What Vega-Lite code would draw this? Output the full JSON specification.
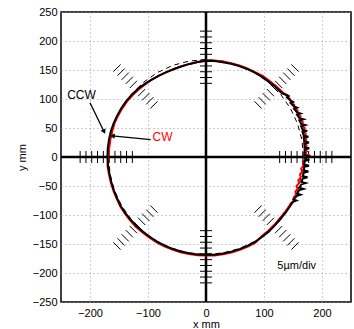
{
"$schema":"https://vega.github.io/schema/vega-lite/v6.json",
"width":290,"height":290,
"autosize":{"type":"none"},
"padding":{"left":61,"top":12,"right":3,"bottom":27},
"background":"white",
"config":{
 "font":"Liberation Sans",
 "view":{"stroke":"black","strokeWidth":1.5},
 "axis":{"domain":false,"ticks":false,"grid":true,"gridColor":"#9a9a9a","gridDash":[1,3],"gridWidth":1,"labelFont":"Liberation Sans","labelFontSize":11,"labelColor":"black","labelFlush":false,"labelOverlap":false,"titleFont":"Liberation Sans","titleFontSize":11,"titleFontWeight":"normal","titleColor":"black"}
},
"datasets":{
 "hatch":[
  {"x":-217,"y":0,"g":"h"},{"x":-207,"y":0,"g":"h"},{"x":-197,"y":0,"g":"h"},{"x":-187,"y":0,"g":"h"},{"x":-177,"y":0,"g":"h"},{"x":-167,"y":0,"g":"h"},{"x":-157,"y":0,"g":"h"},{"x":-147,"y":0,"g":"h"},{"x":-137,"y":0,"g":"h"},{"x":-127,"y":0,"g":"h"},
  {"x":217,"y":0,"g":"h"},{"x":207,"y":0,"g":"h"},{"x":197,"y":0,"g":"h"},{"x":187,"y":0,"g":"h"},{"x":177,"y":0,"g":"h"},{"x":167,"y":0,"g":"h"},{"x":157,"y":0,"g":"h"},{"x":147,"y":0,"g":"h"},{"x":137,"y":0,"g":"h"},{"x":127,"y":0,"g":"h"},
  {"x":0,"y":-217,"g":"v"},{"x":0,"y":-207,"g":"v"},{"x":0,"y":-197,"g":"v"},{"x":0,"y":-187,"g":"v"},{"x":0,"y":-177,"g":"v"},{"x":0,"y":-167,"g":"v"},{"x":0,"y":-157,"g":"v"},{"x":0,"y":-147,"g":"v"},{"x":0,"y":-137,"g":"v"},{"x":0,"y":-127,"g":"v"},
  {"x":0,"y":217,"g":"v"},{"x":0,"y":207,"g":"v"},{"x":0,"y":197,"g":"v"},{"x":0,"y":187,"g":"v"},{"x":0,"y":177,"g":"v"},{"x":0,"y":167,"g":"v"},{"x":0,"y":157,"g":"v"},{"x":0,"y":147,"g":"v"},{"x":0,"y":137,"g":"v"},{"x":0,"y":127,"g":"v"},
  {"x":89.8,"y":89.8,"g":"d1"},{"x":96.9,"y":96.9,"g":"d1"},{"x":103.9,"y":103.9,"g":"d1"},{"x":111.0,"y":111.0,"g":"d1"},{"x":118.1,"y":118.1,"g":"d1"},{"x":125.2,"y":125.2,"g":"d1"},{"x":132.2,"y":132.2,"g":"d1"},{"x":139.3,"y":139.3,"g":"d1"},{"x":146.4,"y":146.4,"g":"d1"},{"x":153.4,"y":153.4,"g":"d1"},
  {"x":-89.8,"y":-89.8,"g":"d1"},{"x":-96.9,"y":-96.9,"g":"d1"},{"x":-103.9,"y":-103.9,"g":"d1"},{"x":-111.0,"y":-111.0,"g":"d1"},{"x":-118.1,"y":-118.1,"g":"d1"},{"x":-125.2,"y":-125.2,"g":"d1"},{"x":-132.2,"y":-132.2,"g":"d1"},{"x":-139.3,"y":-139.3,"g":"d1"},{"x":-146.4,"y":-146.4,"g":"d1"},{"x":-153.4,"y":-153.4,"g":"d1"},
  {"x":-89.8,"y":89.8,"g":"d2"},{"x":-96.9,"y":96.9,"g":"d2"},{"x":-103.9,"y":103.9,"g":"d2"},{"x":-111.0,"y":111.0,"g":"d2"},{"x":-118.1,"y":118.1,"g":"d2"},{"x":-125.2,"y":125.2,"g":"d2"},{"x":-132.2,"y":132.2,"g":"d2"},{"x":-139.3,"y":139.3,"g":"d2"},{"x":-146.4,"y":146.4,"g":"d2"},{"x":-153.4,"y":153.4,"g":"d2"},
  {"x":89.8,"y":-89.8,"g":"d2"},{"x":96.9,"y":-96.9,"g":"d2"},{"x":103.9,"y":-103.9,"g":"d2"},{"x":111.0,"y":-111.0,"g":"d2"},{"x":118.1,"y":-118.1,"g":"d2"},{"x":125.2,"y":-125.2,"g":"d2"},{"x":132.2,"y":-132.2,"g":"d2"},{"x":139.3,"y":-139.3,"g":"d2"},{"x":146.4,"y":-146.4,"g":"d2"},{"x":153.4,"y":-153.4,"g":"d2"}
 ],
 "ref":[
  {"x":168,"y":0},{"x":165.4,"y":29.2},{"x":157.9,"y":57.5},{"x":145.5,"y":84.0},{"x":128.7,"y":108.0},{"x":108.0,"y":128.7},{"x":84.0,"y":145.5},{"x":57.5,"y":157.9},{"x":29.2,"y":165.4},{"x":0,"y":168},
  {"x":-29.2,"y":165.4},{"x":-57.5,"y":157.9},{"x":-84.0,"y":145.5},{"x":-108.0,"y":128.7},{"x":-128.7,"y":108.0},{"x":-145.5,"y":84.0},{"x":-157.9,"y":57.5},{"x":-165.4,"y":29.2},{"x":-168,"y":0},
  {"x":-165.4,"y":-29.2},{"x":-157.9,"y":-57.5},{"x":-145.5,"y":-84.0},{"x":-128.7,"y":-108.0},{"x":-108.0,"y":-128.7},{"x":-84.0,"y":-145.5},{"x":-57.5,"y":-157.9},{"x":-29.2,"y":-165.4},{"x":0,"y":-168},
  {"x":29.2,"y":-165.4},{"x":57.5,"y":-157.9},{"x":84.0,"y":-145.5},{"x":108.0,"y":-128.7},{"x":128.7,"y":-108.0},{"x":145.5,"y":-84.0},{"x":157.9,"y":-57.5},{"x":165.4,"y":-29.2},{"x":168,"y":0}
 ],
 "cw":[
  {"x":144.2,"y":-83.3},{"x":146,"y":-80},{"x":151.5,"y":-75},{"x":151,"y":-70},{"x":155.5,"y":-65},{"x":154,"y":-60},{"x":158,"y":-55},{"x":156,"y":-50},{"x":160.5,"y":-45},{"x":159,"y":-40},{"x":163.5,"y":-35},{"x":162,"y":-30},{"x":166,"y":-25},{"x":164,"y":-20},{"x":168.5,"y":-15},{"x":167,"y":-10},{"x":172.5,"y":-5},{"x":170,"y":0},{"x":180,"y":2},{"x":170.5,"y":5},{"x":174,"y":10},{"x":170,"y":15},{"x":173.5,"y":20},{"x":169,"y":25},{"x":173,"y":30},{"x":168.5,"y":35},{"x":172,"y":40},{"x":167,"y":45},{"x":170,"y":50},{"x":164.5,"y":55},{"x":167,"y":60},{"x":161.5,"y":65},{"x":163,"y":70},{"x":157.5,"y":75},{"x":158,"y":80},{"x":152.5,"y":85},{"x":152,"y":90},{"x":146.5,"y":95},{"x":145,"y":100},{"x":140,"y":105},
  {"x":132.5,"y":111.2},{"x":121.6,"y":121.6},{"x":109.9,"y":131.0},{"x":97.8,"y":139.7},{"x":84.5,"y":146.4},{"x":71.2,"y":152.7},{"x":57.5,"y":157.9},{"x":43.4,"y":161.8},{"x":29.0,"y":164.5},{"x":14.6,"y":166.4},{"x":0,"y":166},
  {"x":-14.3,"y":163.9},{"x":-28.3,"y":160.5},{"x":-41.9,"y":156.5},{"x":-55.2,"y":151.8},{"x":-68.3,"y":146.4},{"x":-81.0,"y":140.3},{"x":-93.5,"y":133.5},{"x":-104.8,"y":124.9},{"x":-116.3,"y":116.3},{"x":-126.8,"y":106.4},{"x":-136.4,"y":95.5},{"x":-144.6,"y":83.5},{"x":-151.8,"y":70.8},{"x":-157.9,"y":57.5},{"x":-161.8,"y":43.4},{"x":-165.0,"y":29.1},{"x":-166.9,"y":14.6},{"x":-169,"y":0},
  {"x":-169.9,"y":-14.9},{"x":-167.4,"y":-29.5},{"x":-164.2,"y":-44.0},{"x":-159.7,"y":-58.1},{"x":-154.1,"y":-71.8},{"x":-147.7,"y":-85.3},{"x":-139.7,"y":-97.8},{"x":-130.6,"y":-109.6},{"x":-120.6,"y":-120.6},{"x":-109.3,"y":-130.2},{"x":-97.5,"y":-139.3},{"x":-85.0,"y":-147.2},{"x":-71.8,"y":-154.1},{"x":-58.1,"y":-159.7},{"x":-44.0,"y":-164.2},{"x":-29.5,"y":-167.4},{"x":-14.8,"y":-169.4},{"x":0,"y":-170},
  {"x":14.9,"y":-169.9},{"x":29.6,"y":-167.9},{"x":44.1,"y":-164.7},{"x":58.3,"y":-160.2},{"x":72.1,"y":-154.5},{"x":85.3,"y":-147.7},{"x":95.8,"y":-136.8},{"x":107.0,"y":-127.5},{"x":117.4,"y":-117.4},{"x":126.8,"y":-106.4},{"x":136.0,"y":-95.2},{"x":144.2,"y":-83.3}
 ],
 "ccw":[
  {"x":145.5,"y":-84.0},{"x":148,"y":-80},
  {"x":151,"y":-77},{"x":156,"y":-75},{"x":151,"y":-73},
  {"x":157,"y":-67},{"x":163,"y":-65},{"x":157,"y":-63},
  {"x":161,"y":-57},{"x":168,"y":-55},{"x":161,"y":-53},
  {"x":164.5,"y":-47},{"x":171.5,"y":-45},{"x":164.5,"y":-43},
  {"x":167,"y":-37},{"x":175,"y":-35},{"x":167,"y":-33},
  {"x":168.5,"y":-27},{"x":176.5,"y":-25},{"x":168.5,"y":-23},
  {"x":169.5,"y":-17},{"x":177.5,"y":-15},{"x":169.5,"y":-13},
  {"x":170,"y":-7},{"x":178,"y":-5},{"x":170,"y":-3},
  {"x":170.5,"y":-1},{"x":180,"y":1},{"x":170.5,"y":3},
  {"x":170,"y":13},{"x":178,"y":15},{"x":170,"y":17},
  {"x":169.5,"y":23},{"x":177.5,"y":25},{"x":169.5,"y":27},
  {"x":168.5,"y":33},{"x":176.5,"y":35},{"x":168.5,"y":37},
  {"x":166.5,"y":43},{"x":174.5,"y":45},{"x":166.5,"y":47},
  {"x":164,"y":53},{"x":171,"y":55},{"x":164,"y":57},
  {"x":161,"y":63},{"x":168,"y":65},{"x":161,"y":67},
  {"x":157,"y":73},{"x":163,"y":75},{"x":157,"y":77},
  {"x":152,"y":83},{"x":157,"y":85},{"x":152,"y":87},
  {"x":146,"y":93},{"x":150,"y":95},{"x":146,"y":97},
  {"x":139.5,"y":103},{"x":142.5,"y":105},{"x":139.5,"y":107},
  {"x":131.0,"y":109.9},{"x":120.2,"y":120.2},{"x":108.6,"y":129.5},{"x":96.7,"y":138.0},{"x":84.0,"y":145.5},{"x":70.8,"y":151.8},{"x":57.1,"y":156.9},{"x":43.1,"y":160.8},{"x":28.8,"y":163.5},{"x":14.5,"y":165.4},{"x":0,"y":166},
  {"x":-14.3,"y":163.9},{"x":-28.3,"y":160.5},{"x":-41.9,"y":156.5},{"x":-55.2,"y":151.8},{"x":-68.3,"y":146.4},{"x":-81.0,"y":140.3},{"x":-93.5,"y":133.5},{"x":-105.7,"y":126.0},{"x":-117.4,"y":117.4},{"x":-127.9,"y":107.3},{"x":-137.6,"y":96.4},{"x":-145.9,"y":84.3},{"x":-153.2,"y":71.4},{"x":-159.3,"y":58.0},{"x":-164.2,"y":44.0},{"x":-167.4,"y":29.5},{"x":-169.4,"y":14.8},{"x":-170,"y":0},
  {"x":-168.9,"y":-14.8},{"x":-166.4,"y":-29.3},{"x":-163.2,"y":-43.7},{"x":-158.8,"y":-57.8},{"x":-153.2,"y":-71.4},{"x":-146.8,"y":-84.8},{"x":-138.8,"y":-97.2},{"x":-129.5,"y":-108.6},{"x":-119.5,"y":-119.5},{"x":-108.3,"y":-129.1},{"x":-96.6,"y":-138.0},{"x":-84.3,"y":-145.9},{"x":-71.2,"y":-152.7},{"x":-57.6,"y":-158.3},{"x":-43.6,"y":-162.8},{"x":-29.3,"y":-165.9},{"x":-14.7,"y":-167.9},{"x":0,"y":-168.5},
  {"x":14.7,"y":-168.4},{"x":29.3,"y":-166.4},{"x":43.7,"y":-163.2},{"x":57.8,"y":-158.8},{"x":71.4,"y":-153.2},{"x":84.5,"y":-146.4},{"x":96.6,"y":-138.0},{"x":108.0,"y":-128.7},{"x":118.4,"y":-118.4},{"x":127.9,"y":-107.3},{"x":137.2,"y":-96.1},{"x":145.5,"y":-84.0}
 ]
},
"encoding":{
 "x":{"field":"x","type":"quantitative","scale":{"domain":[-250,250],"nice":false,"zero":false},"axis":{"title":"x mm","values":[-200,-100,0,100,200],"labelPadding":5,"titlePadding":0}},
 "y":{"field":"y","type":"quantitative","scale":{"domain":[-250,250],"nice":false,"zero":false},"axis":{"title":"y mm","values":[-250,-200,-150,-100,-50,0,50,100,150,200,250],"labelPadding":4,"titlePadding":5}}
},
"layer":[
 {"data":{"values":[{"x":0,"y":-250,"x2":0,"y2":250},{"x":-250,"y":0,"x2":250,"y2":0}]},
  "mark":{"type":"rule","color":"black","strokeWidth":2.5},
  "encoding":{"x2":{"field":"x2"},"y2":{"field":"y2"}}},
 {"data":{"name":"hatch"},"transform":[{"filter":"datum.g === 'h'"}],
  "mark":{"type":"point","shape":"M0,-1L0,1","size":144,"filled":false,"stroke":"black","strokeWidth":1,"opacity":1}},
 {"data":{"name":"hatch"},"transform":[{"filter":"datum.g === 'v'"}],
  "mark":{"type":"point","shape":"M-1,0L1,0","size":144,"filled":false,"stroke":"black","strokeWidth":1,"opacity":1}},
 {"data":{"name":"hatch"},"transform":[{"filter":"datum.g === 'd1'"}],
  "mark":{"type":"point","shape":"M-0.6,-0.6L0.6,0.6","size":144,"filled":false,"stroke":"black","strokeWidth":1,"opacity":1}},
 {"data":{"name":"hatch"},"transform":[{"filter":"datum.g === 'd2'"}],
  "mark":{"type":"point","shape":"M-0.6,0.6L0.6,-0.6","size":144,"filled":false,"stroke":"black","strokeWidth":1,"opacity":1}},
 {"data":{"name":"ref"},"mark":{"type":"line","color":"black","strokeWidth":1,"strokeDash":[5,4]},"encoding":{"order":{"value":null}}},
 {"data":{"name":"cw"},"mark":{"type":"line","color":"#ff0000","strokeWidth":2},"encoding":{"order":{"value":null}}},
 {"data":{"name":"ccw"},"mark":{"type":"line","color":"black","strokeWidth":2},"encoding":{"order":{"value":null}}},
 {"data":{"values":[{"x":-200,"y":93.5,"x2":-175.7,"y2":43.6},{"x":-95.3,"y":29.9,"x2":-161.5,"y2":36.4}]},
  "mark":{"type":"rule","color":"black","strokeWidth":1.3},
  "encoding":{"x2":{"field":"x2"},"y2":{"field":"y2"}}},
 {"data":{"values":[{"x":-175.7,"y":43.6}]},"mark":{"type":"point","shape":"triangle-up","size":30,"filled":true,"color":"black","opacity":1,"angle":154}},
 {"data":{"values":[{"x":-161.5,"y":36.4}]},"mark":{"type":"point","shape":"triangle-up","size":30,"filled":true,"color":"black","opacity":1,"angle":275.6}},
 {"data":{"values":[{"x":-214.7,"y":107.5,"t":"CCW"}]},"mark":{"type":"text","font":"Liberation Sans","fontSize":12,"color":"black","align":"center","baseline":"middle"},"encoding":{"text":{"field":"t"}}},
 {"data":{"values":[{"x":-75,"y":34,"t":"CW"}]},"mark":{"type":"text","font":"Liberation Sans","fontSize":12,"color":"#ff0000","align":"center","baseline":"middle"},"encoding":{"text":{"field":"t"}}},
 {"data":{"values":[{"x":156.4,"y":-187.8,"t":"5µm/div"}]},"mark":{"type":"text","font":"Liberation Sans","fontSize":11,"color":"black","align":"center","baseline":"middle"},"encoding":{"text":{"field":"t"}}}
]
}
